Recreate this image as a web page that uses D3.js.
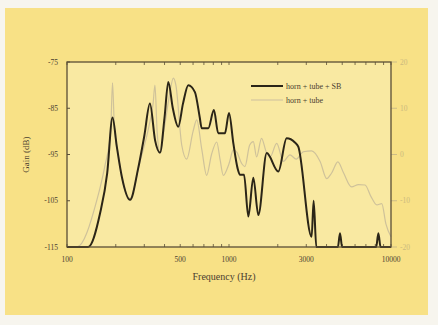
<!DOCTYPE html>
<html>
<head>
<meta charset="utf-8">
<script src="https://cdn.jsdelivr.net/npm/d3@7"></script>
<style>
  body { margin: 0; background: #f7f5ee; }
  svg { display: block; }
  text { font-family: "Liberation Serif", "DejaVu Serif", serif; }
</style>
</head>
<body>
<div id="chart"></div>
<script>
// horn + tube + SB (black)
const sbFreq = [100, 135, 160, 177, 191, 203, 218, 245, 275, 300, 325, 350, 375, 400, 422, 450, 486, 520, 561, 616, 660, 678, 745, 807, 858, 944, 1000, 1064, 1130, 1170, 1238, 1316, 1413, 1517, 1709, 2016, 2269, 2552, 2677, 3236, 3330, 3460, 4700, 4844, 4990, 8100, 8357, 8620, 10000];
const sbGain = [-115, -115, -107.7, -99.1, -87, -93.3, -99.8, -104.8, -98, -91, -84, -92, -94.6, -87, -79.3, -85, -89, -84, -80, -81.5, -87, -89.3, -89.3, -85.4, -90.4, -90.4, -86, -92.6, -98, -99.4, -99.4, -108.4, -100, -108.1, -94.7, -98.7, -91.5, -92.4, -93.3, -112.8, -105, -115, -115, -112, -115, -115, -112, -115, -115];

// horn + tube (light)
const tubeFreq = [100, 115, 153, 171, 186, 191, 196, 205, 218, 245, 280, 320, 340, 349, 360, 375, 400, 430, 453, 470, 511, 548, 600, 632, 680, 728, 780, 840, 880, 922, 1000, 1064, 1117, 1200, 1255, 1340, 1413, 1480, 1588, 1700, 1795, 1970, 2165, 2377, 2600, 2880, 3236, 3652, 4009, 4300, 4700, 5100, 5703, 6300, 6916, 7500, 8183, 8770, 9300, 10000];
const tubeGain = [-115, -115, -104.8, -97.6, -90, -79.5, -89, -94, -100, -104.5, -97, -89, -84, -80, -90, -94.6, -89, -82, -78.5, -80, -93, -96, -90, -87.5, -94, -99.5, -95, -92.3, -96, -99.5, -97, -94, -94.5, -97, -97.6, -93, -92.2, -95.5, -91.5, -94.5, -95.5, -92.6, -96.5, -95.1, -96, -94.4, -94.2, -96.5, -100.2, -99, -96.6, -99, -102, -101.5, -101.6, -104, -105.9, -105.6, -110, -112.8];

const xTicks = [100, 500, 1000, 3000, 10000];
const yTicks = [-75, -85, -95, -105, -115];
const rightTicks = [20, 10, 0, -10, -20];
const seriesNames = ["horn + tube + SB", "horn + tube"];

const W = 438, H = 325;
const plot = { left: 67, right: 391, top: 62, bottom: 247 };

const svg = d3.select("#chart").append("svg")
  .attr("width", W).attr("height", H);

// yellow panel
svg.append("rect")
  .attr("x", 5).attr("y", 8).attr("width", 423).attr("height", 307)
  .attr("fill", "#f8e186");

svg.append("rect")
  .attr("x", plot.left).attr("y", plot.top)
  .attr("width", plot.right - plot.left).attr("height", plot.bottom - plot.top)
  .attr("fill", "#f9e9a2");

const x = d3.scaleLog().domain([100, 10000]).range([plot.left, plot.right]);
const y = d3.scaleLinear().domain([-115, -75]).range([plot.bottom, plot.top]);
const y2 = d3.scaleLinear().domain([-20, 20]).range([plot.bottom, plot.top]);

const axisColor = "#5a4e36";

// minor log ticks bottom + top
const minor = x.ticks();
svg.append("g").selectAll("line.mb").data(minor).join("line")
  .attr("x1", d => x(d)).attr("x2", d => x(d))
  .attr("y1", plot.bottom).attr("y2", plot.bottom - 3)
  .attr("stroke", axisColor).attr("stroke-width", 0.8);
svg.append("g").selectAll("line.mt").data(minor).join("line")
  .attr("x1", d => x(d)).attr("x2", d => x(d))
  .attr("y1", plot.top).attr("y2", plot.top + 3)
  .attr("stroke", axisColor).attr("stroke-width", 0.8);

// left ticks
svg.append("g").selectAll("line").data(yTicks).join("line")
  .attr("x1", plot.left).attr("x2", plot.left + 3)
  .attr("y1", d => y(d)).attr("y2", d => y(d))
  .attr("stroke", axisColor);
svg.append("g").selectAll("text").data(yTicks).join("text")
  .attr("x", plot.left - 9).attr("y", d => y(d) + 2.5)
  .attr("text-anchor", "end").attr("font-size", 7.5).attr("fill", "#4a4030")
  .text(d => d);

// right secondary axis (faded)
svg.append("g").selectAll("line").data(rightTicks).join("line")
  .attr("x1", plot.right).attr("x2", plot.right + 6)
  .attr("y1", d => y2(d)).attr("y2", d => y2(d))
  .attr("stroke", "#cdbd86");
svg.append("g").selectAll("text").data(rightTicks).join("text")
  .attr("x", plot.right + 9).attr("y", d => y2(d) + 2.5)
  .attr("font-size", 7.5).attr("fill", "#cbb97e")
  .text(d => d);

// bottom labels
svg.append("g").selectAll("text").data(xTicks).join("text")
  .attr("x", d => x(d)).attr("y", plot.bottom + 15)
  .attr("text-anchor", "middle").attr("font-size", 7.5).attr("fill", "#4a4030")
  .text(d => d);

// titles
svg.append("text")
  .attr("x", (plot.left + plot.right) / 2 - 5).attr("y", 280)
  .attr("text-anchor", "middle").attr("font-size", 10).attr("fill", "#4a4030")
  .text("Frequency (Hz)");
svg.append("text")
  .attr("transform", "translate(29," + (plot.top + plot.bottom) / 2 + ") rotate(-90)")
  .attr("text-anchor", "middle").attr("font-size", 9).attr("fill", "#4a4030")
  .text("Gain (dB)");

// lines
const line = d3.line()
  .x(d => x(d[0])).y(d => y(d[1]))
  .curve(d3.curveMonotoneX);

svg.append("path")
  .datum(d3.zip(tubeFreq, tubeGain))
  .attr("d", line)
  .attr("fill", "none").attr("stroke", "#cfc29a").attr("stroke-width", 1.2);

svg.append("path")
  .datum(d3.zip(sbFreq, sbGain))
  .attr("d", line)
  .attr("fill", "none").attr("stroke", "#2b2517").attr("stroke-width", 2);

// frame
svg.append("rect")
  .attr("x", plot.left).attr("y", plot.top)
  .attr("width", plot.right - plot.left).attr("height", plot.bottom - plot.top)
  .attr("fill", "none").attr("stroke", axisColor).attr("stroke-width", 1.3);

// legend
const legend = svg.append("g");
const legColors = ["#2b2517", "#d3c7a0"];
const legWidths = [2, 1.2];
seriesNames.forEach((name, i) => {
  const ly = 86 + i * 14;
  legend.append("line")
    .attr("x1", 251).attr("x2", 283).attr("y1", ly).attr("y2", ly)
    .attr("stroke", legColors[i]).attr("stroke-width", legWidths[i]);
  legend.append("text")
    .attr("x", 286).attr("y", ly + 2.5)
    .attr("font-size", 8).attr("fill", "#4a4030")
    .text(name);
});
</script>
</body>
</html>
